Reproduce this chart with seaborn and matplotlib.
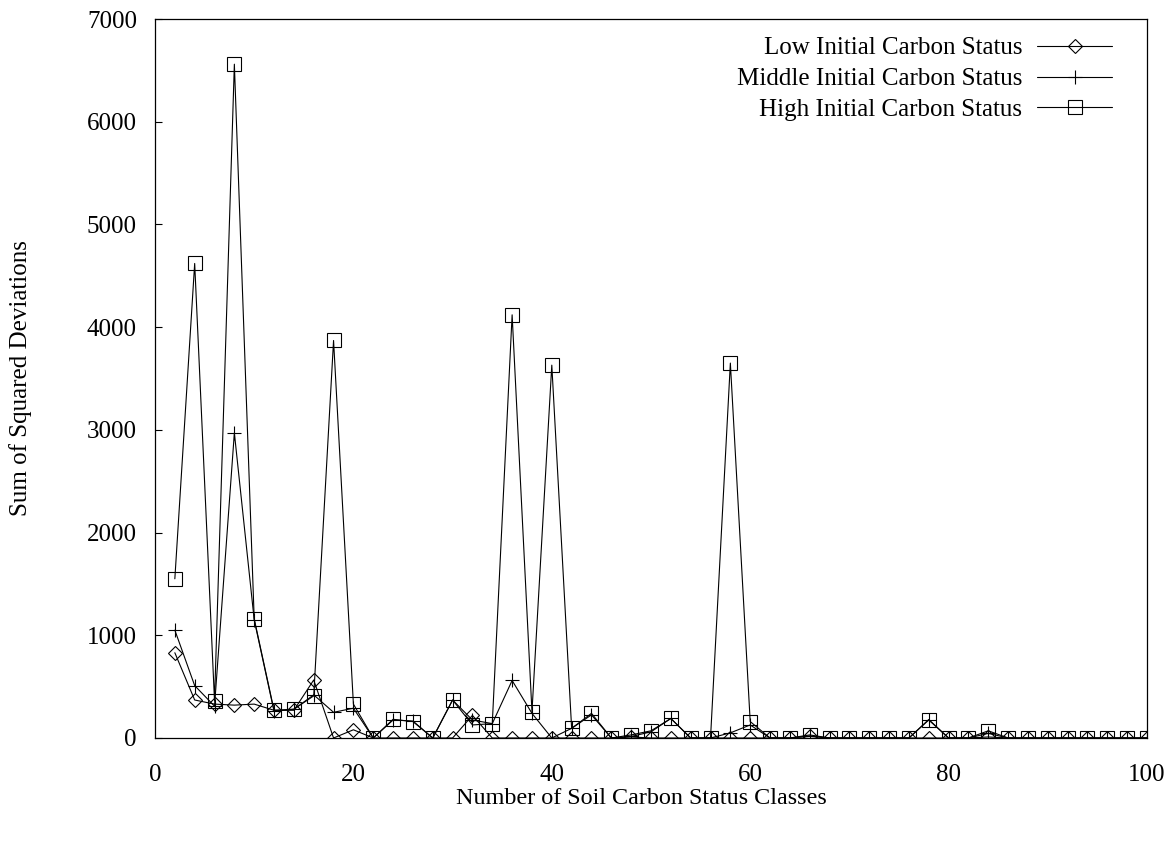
import numpy as np
import pandas as pd
import matplotlib
matplotlib.use("Agg")
import matplotlib.pyplot as plt
import seaborn as sns

classes = list(range(2, 101, 2))

low = [830, 370, 330, 320, 330, 270, 270, 565, 0, 80,
       0, 0, 0, 0, 0, 220, 0, 0, 0, 0,
       0, 0, 0, 10, 0, 0, 0, 0, 0, 0,
       0, 0, 15, 0, 0, 0, 0, 0, 0, 0,
       0, 10, 0, 0, 0, 0, 0, 0, 0, 0]

middle = [1050, 510, 310, 2970, 1150, 260, 280, 420, 250, 290,
          0, 175, 165, 0, 370, 175, 140, 560, 240, 0,
          94, 225, 0, 15, 60, 190, 0, 0, 50, 127,
          0, 0, 20, 0, 0, 0, 0, 0, 175, 0,
          0, 45, 0, 0, 0, 0, 0, 0, 0, 0]

high = [1550, 4620, 360, 6560, 1160, 270, 280, 410, 3870, 330,
        0, 182, 160, 0, 370, 127, 140, 4120, 256, 3630,
        94, 240, 0, 30, 70, 190, 0, 0, 3650, 160,
        0, 0, 30, 0, 0, 0, 0, 0, 180, 0,
        0, 70, 0, 0, 0, 0, 0, 0, 0, 0]

series_names = ["Low Initial Carbon Status",
                "Middle Initial Carbon Status",
                "High Initial Carbon Status"]

df = pd.DataFrame({"classes": classes, "low": low, "middle": middle, "high": high})

sns.set_theme(style="white")
plt.rcParams["font.family"] = ["Liberation Serif", "DejaVu Serif"]

fig = plt.figure(figsize=(11.75, 8.41), dpi=100)
ax = fig.add_axes([155 / 1175, 1 - 738 / 841, (1147 - 155) / 1175, (738 - 19) / 841])

styles = [
    ("low", "D", 7.0),
    ("middle", "+", 10),
    ("high", "s", 9.6),
]
for (col, mk, ms), name in zip(styles, series_names):
    sns.lineplot(data=df, x="classes", y=col, ax=ax, color="black",
                 linewidth=0.8, marker=mk, markersize=ms,
                 markerfacecolor="none", markeredgecolor="black",
                 markeredgewidth=0.8, label=name)

ax.set_xlim(0, 100)
ax.set_ylim(0, 7000)
ax.set_xticks(range(0, 101, 20))
ax.set_yticks(range(0, 7001, 1000))

fs = 18
ax.tick_params(axis="y", direction="in", length=5, width=0.8, pad=13,
               labelsize=fs, colors="black", left=True, right=False)
ax.tick_params(axis="x", length=0, pad=19, labelsize=fs, colors="black",
               bottom=True, top=False)
for sp in ax.spines.values():
    sp.set_visible(True)
    sp.set_color("black")
    sp.set_linewidth(0.9)

ax.set_xlabel("Number of Soil Carbon Status Classes", fontsize=17.4, color="black")
ax.set_ylabel("Sum of Squared Deviations", fontsize=fs, color="black")
ax.xaxis.set_label_coords(0.49, -61 / 719)
ax.xaxis.label.set_va("center")
ax.yaxis.set_label_coords(-134 / 992, 0.5)
ax.yaxis.label.set_va("center")

leg = ax.legend(loc="upper right", markerfirst=False, frameon=False,
                fontsize=fs, handlelength=3.0, handletextpad=0.6,
                labelspacing=0.33, borderpad=0, borderaxespad=0,
                bbox_to_anchor=((1112 - 155) / 992, (738 - 37) / 719))
for t in leg.get_texts():
    t.set_color("black")

fig.savefig("out.png", dpi=100)
